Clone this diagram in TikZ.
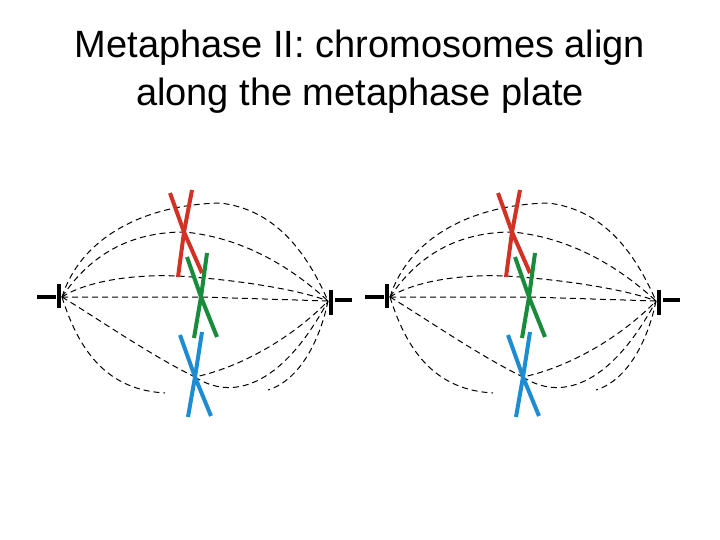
\documentclass[tikz,border=0pt]{standalone}
\usepackage{fontspec}
\setmainfont{Liberation Sans}
\begin{document}
\begin{tikzpicture}[x=1pt, y=-1pt]
    \tikzset{
        fibre/.style = {dashed, dash pattern=on 6pt off 4pt, line width=1pt},
        pole/.style = {line width=4.5pt},
        arm/.style = {line width=4pt},
        red arm/.style = {arm, draw={rgb,255:red,210;green,50;blue,35}},
        green arm/.style = {arm, draw={rgb,255:red,25;green,140;blue,60}},
        blue arm/.style = {arm, draw={rgb,255:red,30;green,140;blue,210}}
    }
    \useasboundingbox (0,0) rectangle (720,540);

    \node[font=\fontsize{38}{48}\selectfont, align=center] (title) at (360,72)
        {Metaphase II: chromosomes align\\along the metaphase plate};

    \foreach \dx in {0,328} {
    \begin{scope}[xshift=\dx]
        \coordinate (l) at (62,297);
        \coordinate (r) at (328,301);
        \coordinate (cr) at (184,232);
        \coordinate (cg) at (201,297);
        \coordinate (cb) at (195,377);

        % poles
        \draw[pole] (59,284) -- (59,308);
        \draw[pole] (37,297) -- (56,297);
        \draw[pole] (331,290) -- (331,315);
        \draw[pole] (335,300) -- (352,300);

        % spindle fibres
        \draw[fibre] (l) .. controls (80,240) and (140,205) .. (220,203)
            .. controls (280,210) and (310,260) .. (r);
        \draw[fibre] (l) .. controls (90,255) and (130,232) .. (cr)
            .. controls (250,238) and (300,275) .. (r);
        \draw[fibre] (l) .. controls (85,282) and (130,274) .. (178,276)
            .. controls (240,280) and (300,290) .. (r);
        \draw[fibre] (l) -- (cg) -- (r);
        \draw[fibre] (l) .. controls (100,320) and (150,355) .. (cb)
            .. controls (250,365) and (300,330) .. (r);
        \draw[fibre] (l) .. controls (80,355) and (110,390) .. (165,393);
        \draw[fibre] (cb) .. controls (230,400) and (280,390) .. (r);
        \draw[fibre] (r) .. controls (320,340) and (300,380) .. (268,390);

        % chromosomes
        \draw[red arm] (170,193) -- (cr) -- (202,273);
        \draw[red arm] (192,190) -- (cr) -- (178,277);
        \draw[green arm] (187,257) -- (cg) -- (217,337);
        \draw[green arm] (207,253) -- (cg) -- (194,338);
        \draw[blue arm] (180,335) -- (cb) -- (211,416);
        \draw[blue arm] (202,332) -- (cb) -- (188,417);
    \end{scope}
    }
\end{tikzpicture}
\end{document}
